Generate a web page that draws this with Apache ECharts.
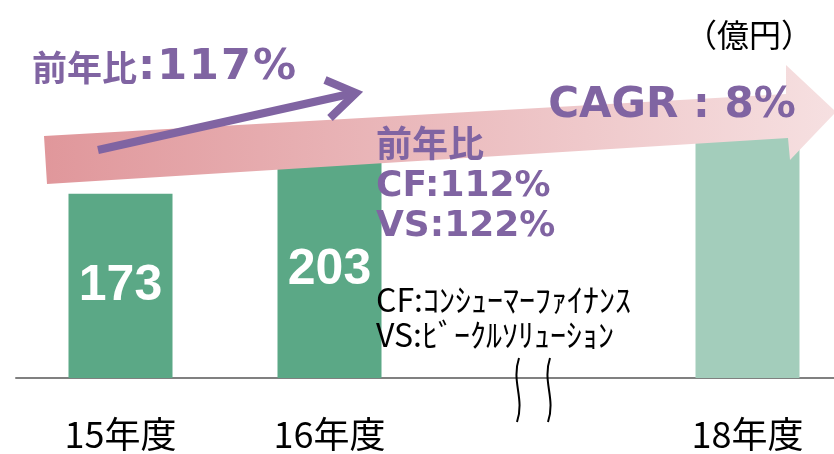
<!DOCTYPE html>
<html>
<head>
<meta charset="utf-8">
<script src="https://cdn.jsdelivr.net/npm/echarts@6/dist/echarts.min.js"></script>
<style>
html, body {margin: 0; padding: 0; background: #fff;}
#main {width: 834px; height: 454px;}
</style>
</head>
<body>
<div id="main"></div>
<script>
//*************** data ***************
var categories = ['15年度', '16年度', '', '18年度'];
var sales = [173, 203, null, 230];
var show_value = [true, true, false, false];
var bar_colors = ['#5BA886', '#5BA886', '#5BA886', '#A3CDBB'];

var purple = '#8064A2';
var cjk = '"Noto Sans CJK JP"';
var latin = '"DejaVu Sans", "Noto Sans CJK JP"';

//*************** chart ***************
var chart = echarts.init(document.getElementById('main'));

var bar_data = sales.map(function (v, i) {
    return {
        value: v,
        itemStyle: {color: bar_colors[i]},
        label: {show: show_value[i]}
    };
});

var mid_left = {align: 'left', verticalAlign: 'middle', textAlign: 'left', textVerticalAlign: 'middle'};
function txt(x, y, text, font, fill, extra) {
    return {
        type: 'text', z: 70, x: x, y: y,
        style: Object.assign({text: text, font: font, fill: fill}, mid_left, extra || {})
    };
}

var digit = {fontSize: 43, fontWeight: 'bold', fontFamily: 'DejaVu Sans', fill: purple, color: purple, padding: [0, 1, 0, 1]};

chart.setOption({
    animation: false,
    grid: {left: 16, width: 836, top: 0, bottom: 76, outerBoundsMode: 'none'},
    xAxis: {
        type: 'category',
        data: categories,
        axisLine: {lineStyle: {color: '#808080', width: 2}},
        axisTick: {show: false},
        axisLabel: {
            color: '#000',
            fontSize: 36,
            lineHeight: 40,
            margin: 36,
            fontFamily: 'Noto Sans CJK JP'
        }
    },
    yAxis: {type: 'value', min: 0, max: 355, show: false, splitLine: {show: false}},
    series: [
        {
            type: 'bar',
            barWidth: 104,
            data: bar_data,
            z: 2,
            label: {
                position: 'inside',
                color: '#fff',
                fontSize: 50,
                fontWeight: 'bold',
                fontFamily: 'Liberation Sans'
            }
        }
    ],
    graphic: [
        // big growth arrow
        {
            type: 'polygon', z: 50,
            shape: {points: [[44, 136], [786, 94], [786, 65], [836, 112], [790, 160], [788, 138], [47, 184]]},
            style: {
                fill: new echarts.graphic.LinearGradient(0, 0, 1, 0, [
                    {offset: 0, color: '#E0979B'},
                    {offset: 1, color: '#F6E0E1'}
                ])
            }
        },
        // purple arrow
        {
            type: 'polyline', z: 60,
            shape: {points: [[98, 150], [354, 93]]},
            style: {stroke: purple, lineWidth: 8, fill: null}
        },
        {
            type: 'polyline', z: 60,
            shape: {points: [[325, 80], [356, 93], [330, 118]]},
            style: {stroke: purple, lineWidth: 8, fill: null, lineJoin: 'miter'}
        },
        // break marks
        {
            type: 'bezierCurve', z: 60,
            shape: {x1: 519, y1: 358, cpx1: 511, cpy1: 382, cpx2: 525, cpy2: 398, x2: 517, y2: 422},
            style: {stroke: '#000', lineWidth: 2, fill: null}
        },
        {
            type: 'bezierCurve', z: 60,
            shape: {x1: 550, y1: 358, cpx1: 542, cpy1: 382, cpx2: 556, cpy2: 398, x2: 548, y2: 422},
            style: {stroke: '#000', lineWidth: 2, fill: null}
        },
        // texts
        txt(749, 35, '（億円）', '32px ' + cjk, '#000', {align: 'center', textAlign: 'center'}),
        {
            type: 'text', z: 70, x: 32, y: 68,
            style: Object.assign({
                text: '{a|前年比}{b|:}{c|1}{c|1}{c|7}{c|%}',
                fill: purple,
                rich: {
                    a: {fontSize: 35, fontWeight: 'bold', fontFamily: 'Noto Sans CJK JP', fill: purple, color: purple},
                    b: digit,
                    c: digit
                }
            }, mid_left)
        },
        txt(672, 106, 'CAGR : 8%', 'bold 42px ' + latin, purple, {align: 'center', textAlign: 'center'}),
        txt(376, 143, '前年比', 'bold 36px ' + cjk, purple),
        txt(376, 187, 'CF:112%', 'bold 36px ' + latin, purple),
        txt(376, 227, 'VS:122%', 'bold 36px ' + latin, purple),
        txt(376, 300, 'CF:ｺﾝｼｭｰﾏｰﾌｧｲﾅﾝｽ', '32px ' + cjk, '#000'),
        txt(376, 335, 'VS:ﾋﾞｰｸﾙｿﾘｭｰｼｮﾝ', '32px ' + cjk, '#000')
    ]
});
</script>
</body>
</html>
